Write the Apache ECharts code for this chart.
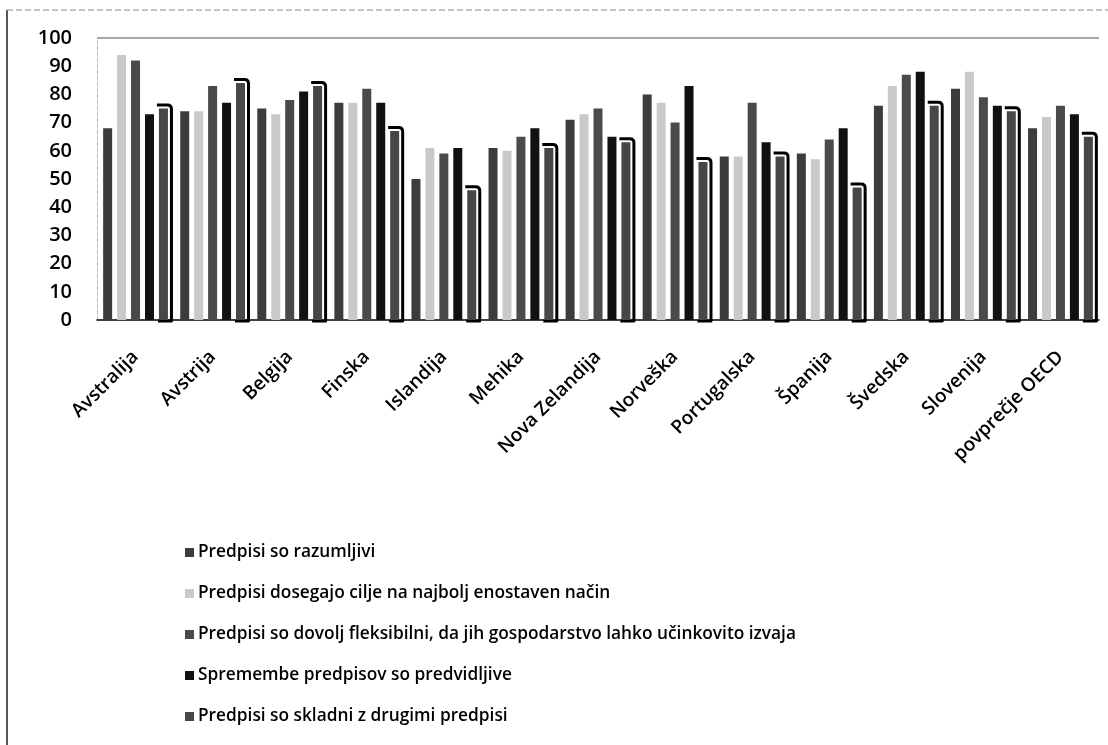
<!DOCTYPE html>
<html>
<head>
<meta charset="utf-8">
<script src="https://cdn.jsdelivr.net/npm/echarts@6/dist/echarts.min.js"></script>
<style>
  html, body { margin: 0; padding: 0; background: #fff; }
  #chart { width: 1108px; height: 745px; }
</style>
</head>
<body>
<div id="chart"></div>
<script>
// Countries / groups on the category axis
const categories = ['Avstralija', 'Avstrija', 'Belgija', 'Finska', 'Islandija', 'Mehika',
  'Nova Zelandija', 'Norveška', 'Portugalska', 'Španija', 'Švedska', 'Slovenija', 'povprečje OECD'];

// Series names (survey statements)
const seriesNames = [
  'Predpisi so razumljivi',
  'Predpisi dosegajo cilje na najbolj enostaven način',
  'Predpisi so dovolj fleksibilni, da jih gospodarstvo lahko učinkovito izvaja',
  'Spremembe predpisov so predvidljive',
  'Predpisi so skladni z drugimi predpisi'
];

// Share of positive answers (%) per statement
const razumljivi    = [68, 74, 75, 77, 50, 61, 71, 80, 58, 59, 76, 82, 68];
const enostavni     = [94, 74, 73, 77, 61, 60, 73, 77, 58, 57, 83, 88, 72];
const fleksibilni   = [92, 83, 78, 82, 59, 65, 75, 70, 77, 64, 87, 79, 76];
const predvidljivi  = [73, 77, 81, 77, 61, 68, 65, 83, 63, 68, 88, 76, 73];
const skladni       = [75, 84, 83, 67, 46, 61, 63, 56, 58, 47, 76, 74, 65];

// Y axis ticks
const yMin = 0, yMax = 100, yStep = 10;

const fills = ['#3c3c3c', '#c9c9c9', '#4a4a4a', '#111111', '#474747'];
const values = [razumljivi, enostavni, fleksibilni, predvidljivi, skladni];

// bar geometry (px) shared by the bars and the dark frame of the last series
const BAR_W = 9;
const GAP_RATIO = 0.55;
const PITCH = BAR_W * (1 + GAP_RATIO);
const SLOT_SHIFT = 2 * PITCH;   // last of five bars, relative to group centre
const FRAME_GAP = 2;            // white space between bar and frame
const FRAME_W = 3;

const chart = echarts.init(document.getElementById('chart'), null, { renderer: 'canvas' });

const series = values.map((v, i) => ({
  name: seriesNames[i],
  type: 'bar',
  data: v,
  barWidth: BAR_W,
  barGap: (GAP_RATIO * 100) + '%',
  itemStyle: { color: fills[i] }
}));

// dark frame (top + right side) around each bar of the last series
series.push({
  name: 'okvir',
  type: 'custom',
  z: 2,
  silent: true,
  data: skladni.map((v, i) => [i, v]),
  encode: { x: 0, y: 1 },
  renderItem: function (params, api) {
    const top = api.coord([api.value(0), api.value(1)]);
    const base = api.coord([api.value(0), 0]);
    const cx = top[0] + SLOT_SHIFT;
    const off = FRAME_GAP + FRAME_W / 2;
    const l = cx - BAR_W / 2 - FRAME_GAP;
    const r = cx + BAR_W / 2 + off;
    const t = top[1] - off;
    const b = base[1] + 1;
    const rad = 4;
    return {
      type: 'path',
      shape: {
        pathData: 'M' + l + ' ' + t + ' L' + (r - rad) + ' ' + t +
          ' Q' + r + ' ' + t + ' ' + r + ' ' + (t + rad) +
          ' L' + r + ' ' + b + ' L' + (l + 1) + ' ' + b
      },
      style: { stroke: '#000', fill: null, lineWidth: FRAME_W, lineJoin: 'round' }
    };
  }
});

// Only the top (100) line of the value axis is drawn
const gridColors = [];
for (let t = yMin; t <= yMax; t += yStep) gridColors.push(t === yMax ? '#8a8a8a' : 'rgba(0,0,0,0)');

chart.setOption({
  backgroundColor: '#ffffff',
  animation: false,
  textStyle: { fontFamily: 'Open Sans' },
  grid: { left: 97, right: 9, top: 38, bottom: 425, containLabel: false },
  xAxis: {
    type: 'category',
    data: categories,
    axisLine: { lineStyle: { color: '#000', width: 1.5 } },
    axisTick: { show: false },
    axisLabel: {
      rotate: 45,
      interval: 0,
      margin: 34,
      fontSize: 19,
      fontWeight: 600,
      color: '#000'
    }
  },
  yAxis: {
    type: 'value',
    min: yMin,
    max: yMax,
    interval: yStep,
    axisLine: { show: true, lineStyle: { color: '#bbbbbb', type: 'dashed', width: 1 } },
    axisTick: { show: false },
    splitLine: { show: true, lineStyle: { color: gridColors, width: 1.5 } },
    axisLabel: {
      fontSize: 20,
      fontWeight: 600,
      color: '#000',
      margin: 25
    }
  },
  legend: {
    orient: 'vertical',
    left: 180,
    top: 539,
    itemWidth: 9,
    itemHeight: 9,
    itemGap: 24,
    icon: 'rect',
    textStyle: { fontSize: 17.3, fontWeight: 600, color: '#000', padding: [0, 0, 0, -1] },
    data: seriesNames.map((n, i) => ({
      name: n,
      itemStyle: { color: fills[i], borderWidth: 0 }
    }))
  },
  graphic: [
    { type: 'line', shape: { x1: 7, y1: 10, x2: 7, y2: 745 }, style: { stroke: '#222', lineWidth: 1.5 } },
    { type: 'line', shape: { x1: 7, y1: 10, x2: 1108, y2: 10 }, style: { stroke: '#888', lineWidth: 1, lineDash: [6, 3] } }
  ],
  series: series
});
</script>
</body>
</html>
